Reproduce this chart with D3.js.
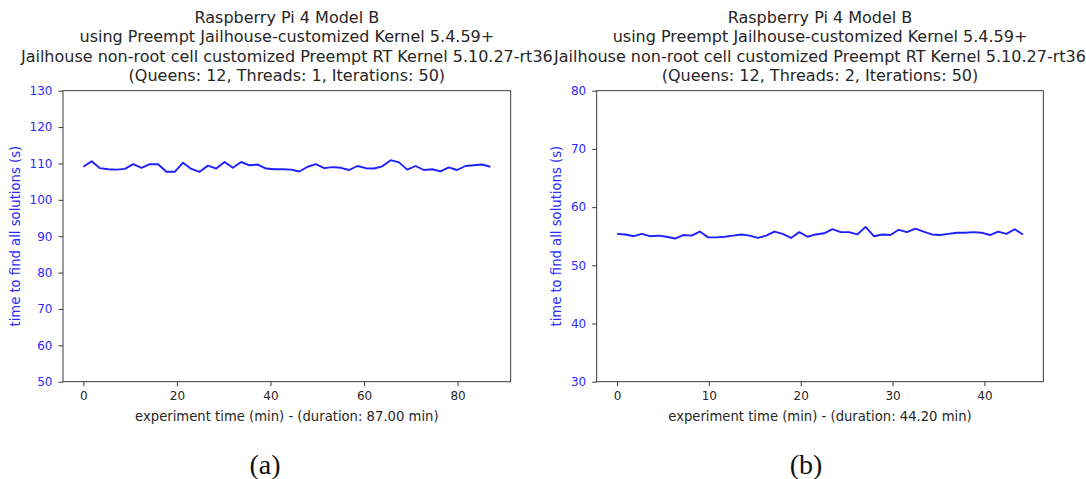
<!DOCTYPE html>
<html lang="en">
<head>
<meta charset="UTF-8">
<title>Raspberry Pi 4 Model B - Jailhouse</title>
<script src="https://d3js.org/d3.v7.min.js"></script>
<style>
  body { margin: 0; background: #fff; }
  svg { display: block; font-family: "DejaVu Sans", sans-serif; }
</style>
</head>
<body>
<svg id="chart" width="1086" height="479"></svg>
<script>
// panel (a): 1 thread, 87.00 min
const valuesA = [109.1, 110.6, 108.7, 108.4, 108.3, 108.5, 109.8, 108.8, 109.8, 109.8,
                 107.7, 107.7, 110.2, 108.5, 107.7, 109.4, 108.6, 110.4, 108.8, 110.4,
                 109.5, 109.7, 108.6, 108.4, 108.4, 108.3, 107.8, 109.1, 109.8, 108.7,
                 109.0, 108.8, 108.2, 109.3, 108.7, 108.6, 109.2, 110.9, 110.3, 108.3,
                 109.3, 108.2, 108.4, 107.8, 108.9, 108.2, 109.3, 109.5, 109.7, 109.1];
// panel (b): 2 threads, 44.20 min
const valuesB = [55.4, 55.3, 55.0, 55.4, 55.0, 55.1, 54.9, 54.6, 55.2, 55.1,
                 55.8, 54.8, 54.8, 54.9, 55.1, 55.3, 55.1, 54.7, 55.1, 55.8,
                 55.4, 54.7, 55.7, 54.9, 55.3, 55.5, 56.2, 55.7, 55.7, 55.3,
                 56.6, 55.0, 55.3, 55.2, 56.1, 55.7, 56.3, 55.8, 55.3, 55.2,
                 55.4, 55.6, 55.6, 55.7, 55.6, 55.2, 55.8, 55.4, 56.2, 55.3];
const durations = [87.0, 44.2];
const yDomains = [[50, 130], [30, 80]];
const xTicks = [[0, 20, 40, 60, 80], [0, 10, 20, 30, 40]];
const yTicks = [[50, 60, 70, 80, 90, 100, 110, 120, 130], [30, 40, 50, 60, 70, 80]];
const threads = [1, 2];
const subLabels = ["(a)", "(b)"];

const titleLines = [
  "Raspberry Pi 4 Model B",
  "using Preempt Jailhouse-customized Kernel 5.4.59+",
  "Jailhouse non-root cell customized Preempt RT Kernel 5.10.27-rt36"
];

const svg = d3.select("#chart");
const blue = "#2b2bff";
const textColor = "#262626";

const panels = [
  { left: 63, right: 510.7, top: 90.7, bottom: 381.7, values: valuesA, subX: 265, ylabOff: 43.5 },
  { left: 596.7, right: 1043.3, top: 90.7, bottom: 381.7, values: valuesB, subX: 806, ylabOff: 35.5 }
];

panels.forEach((p, k) => {
  const dur = durations[k];
  const n = p.values.length;
  const data = p.values.map((v, i) => ({ t: i * dur / (n - 1), v: v }));

  // matplotlib style 5% margins on x
  const pad = dur * 0.05;
  const x = d3.scaleLinear().domain([-pad, dur + pad]).range([p.left, p.right]);
  const y = d3.scaleLinear().domain(yDomains[k]).range([p.bottom, p.top]);

  const g = svg.append("g");

  // line
  g.append("path")
    .datum(data)
    .attr("fill", "none")
    .attr("stroke", "#1f1fff")
    .attr("stroke-width", 1.9)
    .attr("stroke-linejoin", "round")
    .attr("d", d3.line().x(d => x(d.t)).y(d => y(d.v)));

  // axes
  const xAxis = g.append("g")
    .attr("transform", `translate(0,${p.bottom})`)
    .call(d3.axisBottom(x).tickValues(xTicks[k]).tickSize(4.5).tickPadding(5).tickFormat(d3.format("d")));
  xAxis.select(".domain").remove();
  xAxis.selectAll("line").attr("stroke", textColor).attr("stroke-width", 0.9);
  xAxis.selectAll("text").attr("fill", textColor).style("font-size", "12px").style("font-family", "DejaVu Sans");

  const yAxis = g.append("g")
    .attr("transform", `translate(${p.left},0)`)
    .call(d3.axisLeft(y).tickValues(yTicks[k]).tickSize(4.5).tickPadding(6).tickFormat(d3.format("d")));
  yAxis.select(".domain").remove();
  yAxis.selectAll("line").attr("stroke", textColor).attr("stroke-width", 0.9);
  yAxis.selectAll("text").attr("fill", blue).style("font-size", "12px").style("font-family", "DejaVu Sans");

  // frame
  g.append("rect")
    .attr("x", p.left).attr("y", p.top)
    .attr("width", p.right - p.left).attr("height", p.bottom - p.top)
    .attr("fill", "none").attr("stroke", textColor).attr("stroke-width", 0.9);

  // title
  const cx = (p.left + p.right) / 2;
  const lines = titleLines.concat([`(Queens: 12, Threads: ${threads[k]}, Iterations: 50)`]);
  g.selectAll(".title")
    .data(lines)
    .enter().append("text")
    .attr("x", cx)
    .attr("y", (d, i) => 22.5 + i * 19.6)
    .attr("text-anchor", "middle")
    .attr("fill", textColor)
    .style("font-size", "16px")
    .text(d => d);

  // axis labels
  g.append("text")
    .attr("x", cx)
    .attr("y", 421)
    .attr("text-anchor", "middle")
    .attr("fill", textColor)
    .style("font-size", "13.2px")
    .text(`experiment time (min) - (duration: ${dur.toFixed(2)} min)`);

  g.append("text")
    .attr("transform", `translate(${p.left - p.ylabOff},${(p.top + p.bottom) / 2}) rotate(-90)`)
    .attr("text-anchor", "middle")
    .attr("fill", blue)
    .style("font-size", "13.2px")
    .text("time to find all solutions (s)");

  // sub-figure label
  g.append("text")
    .attr("x", p.subX)
    .attr("y", 474)
    .attr("text-anchor", "middle")
    .attr("fill", "#111")
    .style("font-family", "'Liberation Serif', serif")
    .style("font-size", "28px")
    .text(subLabels[k]);
});
</script>
</body>
</html>
